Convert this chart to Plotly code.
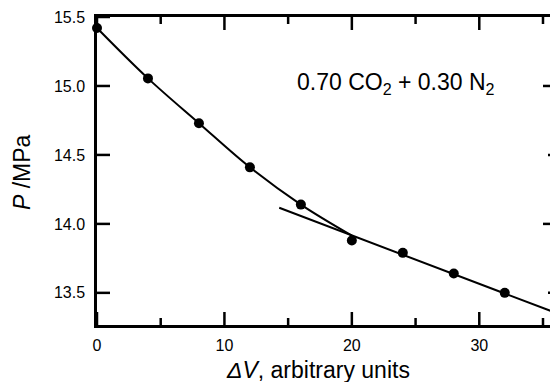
import plotly.graph_objects as go

# data
dv = [0, 4, 8, 12, 16, 20, 24, 28, 32]
p = [15.42, 15.055, 14.73, 14.41, 14.14, 13.88, 13.79, 13.64, 13.50]

# first smooth curve (through early points)
fit1_x = [0, 4, 8, 12, 16, 20]
fit1_y = [15.42, 15.055, 14.73, 14.41, 14.14, 13.915]
# second line (later branch)
fit2_x = [14.3, 20, 24, 28, 32, 36]
fit2_y = [14.117, 13.915, 13.775, 13.635, 13.495, 13.355]

x_ticks = [0, 10, 20, 30]
x_minor = [5, 15, 25, 35]
y_ticks = [13.5, 14.0, 14.5, 15.0, 15.5]
y_tick_text = ["13.5", "14.0", "14.5", "15.0", "15.5"]
y_right_major = [14.0, 15.0]
y_right_minor = [13.5, 14.5]

FONT = "Liberation Sans, Arial, Helvetica, sans-serif"
x_range = [0, 35.55]
y_range = [13.267, 15.5]

L, T, B = 97, 17, 57
pw = 550 - L
ph = 382 - T - B
dx = (x_range[1] - x_range[0]) / pw   # data units per pixel
dy = (y_range[1] - y_range[0]) / ph

# tick marks as line segments (built from the tick arrays)
tx, ty = [], []
for vals, ln in ((x_ticks, 13), (x_minor, 7)):
    for v in vals:
        if v > x_range[1]:
            continue
        tx += [v, v, None, v, v, None]
        ty += [y_range[0], y_range[0] + ln * dy, None, y_range[1], y_range[1] - ln * dy, None]
for v in y_ticks:
    tx += [x_range[0], x_range[0] + 13 * dx, None]
    ty += [v, v, None]
for vals, ln in ((y_right_major, 7), (y_right_minor, 2)):
    for v in vals:
        tx += [x_range[1] - ln * dx, x_range[1], None]
        ty += [v, v, None]

fig = go.Figure()
fig.add_trace(go.Scatter(x=tx, y=ty, mode="lines", line=dict(color="black", width=2.5),
                         showlegend=False, hoverinfo="skip", cliponaxis=False))
fig.add_trace(go.Scatter(x=fit1_x, y=fit1_y, mode="lines", line=dict(color="black", width=2, shape="spline"),
                         showlegend=False, hoverinfo="skip"))
fig.add_trace(go.Scatter(x=fit2_x, y=fit2_y, mode="lines", line=dict(color="black", width=2),
                         showlegend=False, hoverinfo="skip"))
fig.add_trace(go.Scatter(x=dv, y=p, mode="markers", marker=dict(color="black", size=10),
                         showlegend=False, cliponaxis=False))

fig.update_layout(
    width=550, height=382,
    margin=dict(l=L, r=0, t=T, b=B),
    paper_bgcolor="white", plot_bgcolor="white",
    font=dict(family=FONT, color="black", size=16),
    xaxis=dict(range=x_range, tickvals=x_ticks, ticks="", ticklabelstandoff=4,
               showline=True, linewidth=2.5, linecolor="black", mirror=True,
               showgrid=False, zeroline=False, tickfont=dict(size=16, family=FONT, color="black")),
    yaxis=dict(range=y_range, tickvals=y_ticks, ticktext=y_tick_text, ticks="", ticklabelstandoff=6,
               showline=True, linewidth=2.5, linecolor="black", mirror=False,
               showgrid=False, zeroline=False, tickfont=dict(size=16, family=FONT, color="black")),
    annotations=[
        dict(text="0.70 CO<sub>2</sub> + 0.30 N<sub>2</sub>", x=23.5, y=15.02, xref="x", yref="y",
             showarrow=False, font=dict(size=23, family=FONT)),
        dict(text="<i>P</i> /MPa", xref="paper", yref="paper", showarrow=False,
             x=(22 - L) / pw, y=(382 - B - 172) / ph, xanchor="center", yanchor="middle",
             textangle=-90, font=dict(size=23, family=FONT)),
        dict(text="<i>ΔV</i>, arbitrary units", xref="paper", yref="paper", showarrow=False,
             x=(318 - L) / pw, y=-(370 - (382 - B)) / ph, xanchor="center", yanchor="middle",
             font=dict(size=23, family=FONT)),
    ],
)

fig.write_html("out.html")
